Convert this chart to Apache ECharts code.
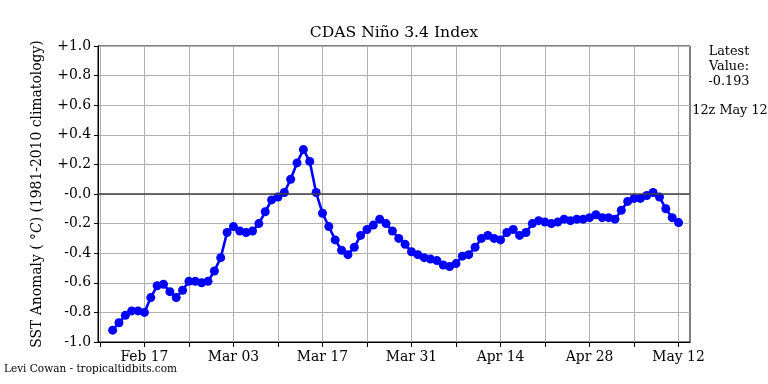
<!DOCTYPE html>
<html>
<head>
<meta charset="utf-8">
<script src="https://cdn.jsdelivr.net/npm/echarts@6/dist/echarts.min.js"></script>
<style>
html,body{margin:0;padding:0;background:#fff;}
#chart{width:768px;height:384px;}
</style>
</head>
<body>
<div id="chart"></div>
<script>
// Reference date for day offsets (axis origin): Feb 10, 2025
const axisOriginDate = '2025-02-10';
// First data point date (daily data)
const firstDataDate = '2025-02-12';
// Daily Niño 3.4 SST anomaly values
const anomalyValues = [
  -0.92, -0.87, -0.82, -0.79, -0.79, -0.80, -0.70, -0.62, -0.61, -0.66,
  -0.70, -0.65, -0.59, -0.59, -0.60, -0.59, -0.52, -0.43, -0.26, -0.22,
  -0.25, -0.26, -0.25, -0.20, -0.12, -0.04, -0.02, 0.01, 0.10, 0.21,
  0.30, 0.22, 0.01, -0.13, -0.22, -0.31, -0.38, -0.41, -0.36, -0.28,
  -0.24, -0.21, -0.17, -0.20, -0.25, -0.30, -0.34, -0.39, -0.41, -0.43,
  -0.44, -0.45, -0.48, -0.49, -0.47, -0.42, -0.41, -0.36, -0.30, -0.28,
  -0.30, -0.31, -0.26, -0.24, -0.28, -0.26, -0.20, -0.18, -0.19, -0.20,
  -0.19, -0.17, -0.18, -0.17, -0.17, -0.16, -0.14, -0.16, -0.16, -0.17,
  -0.11, -0.05, -0.03, -0.03, -0.01, 0.01, -0.02, -0.10, -0.16, -0.193
];
// Weekly tick offsets (days from origin) and labelled ticks
const tickDays = [0, 7, 14, 21, 28, 35, 42, 49, 56, 63, 70, 77, 84, 91];
const labelDays = [7, 21, 35, 49, 63, 77, 91];
const titleText = 'CDAS Niño 3.4 Index';
const latestLines = ['Latest', 'Value:', '-0.193'];
const latestTime = '12z May 12';
const creditText = 'Levi Cowan - tropicaltidbits.com';

const DAY = 86400000;
const originMs = Date.parse(axisOriginDate + 'T00:00:00Z');
const firstOffset = Math.round((Date.parse(firstDataDate + 'T00:00:00Z') - originMs) / DAY);
const months = ['Jan','Feb','Mar','Apr','May','Jun','Jul','Aug','Sep','Oct','Nov','Dec'];
function dayLabel(v) {
  const d = new Date(originMs + Math.round(v) * DAY);
  const dd = d.getUTCDate();
  return months[d.getUTCMonth()] + ' ' + (dd < 10 ? '0' + dd : dd);
}
function yLabel(v) {
  if (Math.abs(v) < 1e-9) return '-0.0';
  return (v > 0 ? '+' : '') + v.toFixed(1);
}

const seriesData = anomalyValues.map((v, i) => [firstOffset + i, v]);
const FONT = '"DejaVu Serif", serif';

const chart = echarts.init(document.getElementById('chart'), null, {renderer: 'canvas'});
chart.setOption({
  animation: false,
  backgroundColor: '#fff',
  grid: {
    left: 98, right: 78, top: 46, bottom: 42,
    containLabel: false, outerBoundsMode: 'none',
    show: true, borderColor: '#000', borderWidth: 1, backgroundColor: 'transparent'
  },
  xAxis: {
    type: 'value',
    min: -0.3, max: 92.8,
    axisLine: {show: true, onZero: false, lineStyle: {color: '#000', width: 1}},
    axisTick: {show: true, inside: false, length: 5, lineStyle: {color: '#000', width: 1}, customValues: tickDays},
    axisLabel: {show: true, customValues: labelDays, formatter: dayLabel, color: '#000',
      fontFamily: FONT, fontSize: 13.9, margin: 8},
    splitLine: {show: true, lineStyle: {color: '#b0b0b0', width: 1}}
  },
  yAxis: {
    type: 'value',
    min: -1, max: 1, interval: 0.2,
    axisLine: {show: true, onZero: false, lineStyle: {color: '#000', width: 1}},
    axisTick: {show: true, inside: false, length: 4, lineStyle: {color: '#000', width: 1}},
    axisLabel: {formatter: yLabel, color: '#000', fontFamily: FONT, fontSize: 13.9, margin: 7},
    splitLine: {show: true, lineStyle: {color: '#b0b0b0', width: 1}},
    name: 'SST Anomaly ( {it|°C}) (1981-2010 climatology)',
    nameLocation: 'middle',
    nameRotate: 90,
    nameGap: 54,
    nameTextStyle: {color: '#000', fontFamily: FONT, fontSize: 13.9,
      rich: {it: {fontStyle: 'italic', fontFamily: FONT, fontSize: 13.9, color: '#000'}}}
  },
  series: [
    {
      type: 'line', data: [], z: 1, silent: true,
      markLine: {
        silent: true, symbol: ['none', 'none'], label: {show: false},
        lineStyle: {color: '#404040', width: 1.5, type: 'solid'},
        data: [{yAxis: 0}]
      }
    },
    {
      type: 'line',
      data: seriesData,
      z: 3,
      symbol: 'circle',
      symbolSize: 9,
      showAllSymbol: true,
      lineStyle: {color: '#0000ff', width: 2.6},
      itemStyle: {color: '#0000ff', borderWidth: 0}
    }
  ],
  graphic: [
    {type: 'text', x: 394, y: 33,
     style: {text: titleText, textAlign: 'center', textVerticalAlign: 'middle',
       font: '15.6px ' + FONT, fill: '#000'}},
    {type: 'text', x: 729, y: 67,
     style: {text: latestLines.join('\n'), textAlign: 'center', textVerticalAlign: 'middle',
       font: '12.8px ' + FONT, fill: '#000', lineHeight: 15}},
    {type: 'text', x: 730, y: 111,
     style: {text: latestTime, textAlign: 'center', textVerticalAlign: 'middle',
       font: '12.8px ' + FONT, fill: '#000'}},
    {type: 'text', x: 4, y: 369,
     style: {text: creditText, textAlign: 'left', textVerticalAlign: 'middle',
       font: '10.5px ' + FONT, fill: '#000'}}
  ]
});
</script>
</body>
</html>
